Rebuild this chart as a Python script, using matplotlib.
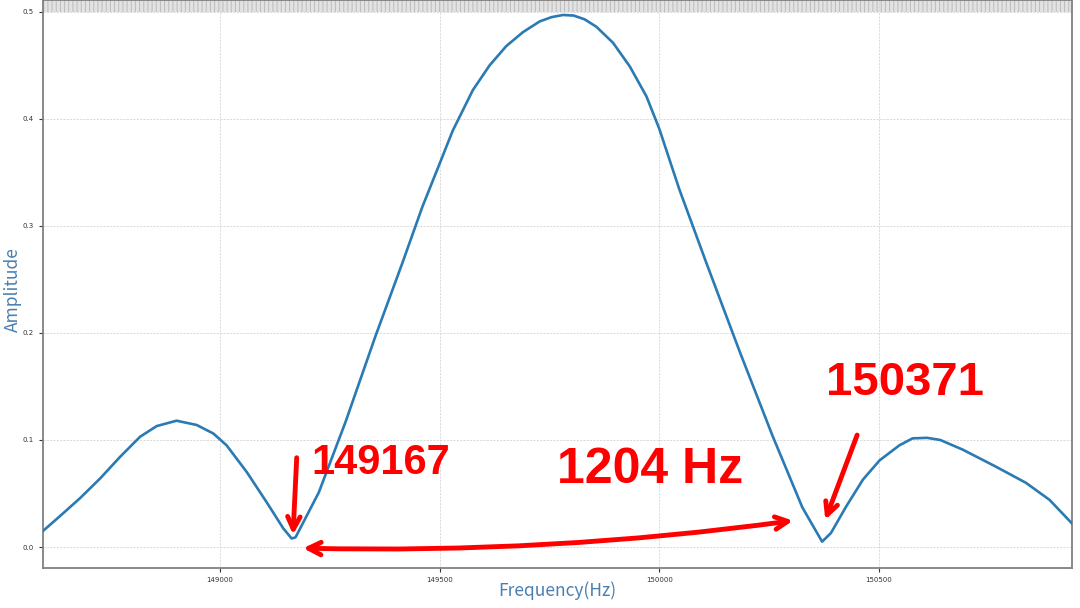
import numpy as np
import matplotlib
matplotlib.use('Agg')
import matplotlib.pyplot as plt

# Spectrum (Hz, amplitude)
freq = [148597, 148636, 148681, 148727, 148772, 148818, 148856, 148901, 148947,
        148985, 149015, 149061, 149106, 149144, 149163, 149172, 149225, 149286,
        149354, 149415, 149461, 149500, 149530, 149576, 149614, 149652, 149690,
        149728, 149755, 149781, 149805, 149830, 149857, 149895, 149933, 149971,
        150000, 150046, 150106, 150182, 150258, 150326, 150371, 150391, 150426,
        150464, 150502, 150547, 150577, 150610, 150640, 150691, 150767, 150835,
        150889, 150940]
amp = [0.015, 0.029, 0.0455, 0.064, 0.084, 0.103, 0.113, 0.118, 0.114,
       0.106, 0.095, 0.070, 0.042, 0.0175, 0.008, 0.009, 0.051, 0.117,
       0.197, 0.265, 0.318, 0.358, 0.389, 0.427, 0.450, 0.468, 0.481,
       0.491, 0.495, 0.497, 0.4965, 0.493, 0.486, 0.471, 0.449, 0.421,
       0.391, 0.334, 0.267, 0.184, 0.104, 0.037, 0.005, 0.013, 0.038,
       0.063, 0.081, 0.095, 0.1015, 0.102, 0.100, 0.091, 0.075, 0.060,
       0.044, 0.022]

x_ticks = [149000, 149500, 150000, 150500]
y_ticks = [0.0, 0.1, 0.2, 0.3, 0.4, 0.5]

left_null = "149167"
right_null = "150371"
width_note = "1204 Hz"

label_color = "#4a7fb0"
line_color = "#2a7ab3"
ink = "#ff0000"
hand_font = ["Liberation Sans", "DejaVu Sans"]
cjk = ["Noto Sans CJK SC", "DejaVu Sans"]

plt.rcParams["hatch.linewidth"] = 0.7

fig = plt.figure(figsize=(10.8, 6.08), dpi=100)
fig.patch.set_facecolor("white")
ax = fig.add_axes([43 / 1080, 40 / 608, 1029 / 1080, 568 / 608])

ax.plot(freq, amp, color=line_color, lw=1.9, zorder=3, solid_joinstyle="round")

ax.set_xlim(148597, 150940)
ax.set_ylim(-0.0196, 0.511)
ax.set_xticks(x_ticks)
ax.set_yticks(y_ticks)
ax.tick_params(labelsize=5, colors="#333333", length=3, width=0.8)
ax.grid(True, linestyle=(0, (2.5, 1.5)), color="#d4d4d4", lw=0.6)
for sp in ax.spines.values():
    sp.set_color("#808080")
    sp.set_linewidth(1.3)

# grey band along the top edge
ax.axhspan(0.5, 0.511, facecolor="#e2e2e2", edgecolor="#bcbcbc", hatch="||||", lw=0, zorder=1)

ax.set_xlabel("Frequency(Hz)", color=label_color, fontsize=12.5, family=cjk)
ax.xaxis.set_label_coords(0.5, -0.024)
ax.set_ylabel("Amplitude", color=label_color, fontsize=12.5, family=cjk)
ax.yaxis.set_label_coords(-0.0204, 0.49)

# hand-drawn style annotations
f1 = freq[int(np.argmin(amp[:20]))]
f2 = freq[20 + int(np.argmin(amp[20:]))]

arrow_kw = dict(arrowstyle="->,head_length=0.9,head_width=0.45", color=ink, lw=3.5)
ax.annotate("", xy=(f1 + 3, 0.009), xytext=(f1 + 12, 0.086), arrowprops=arrow_kw, zorder=5)
ax.annotate("", xy=(f2 + 5, 0.023), xytext=(f2 + 82, 0.107), arrowprops=arrow_kw, zorder=5)
ax.annotate("", xy=(f1 + 20, -0.001), xytext=(f2 - 60, 0.025),
            arrowprops=dict(arrowstyle="<->,head_length=0.9,head_width=0.45",
                            color=ink, lw=3.5, connectionstyle="arc3,rad=-0.04"), zorder=5)

ax.text(149365, 0.0785, left_null, color=ink, fontsize=30, family=hand_font,
        fontweight="bold", ha="center", va="center", zorder=6)
ax.text(149979, 0.072, width_note, color=ink, fontsize=36, family=hand_font,
        fontweight="bold", ha="center", va="center", zorder=6)
ax.text(150560, 0.153, right_null, color=ink, fontsize=34, family=hand_font,
        fontweight="bold", ha="center", va="center", zorder=6)

fig.savefig("out.png", dpi=100)
plt.close(fig)
